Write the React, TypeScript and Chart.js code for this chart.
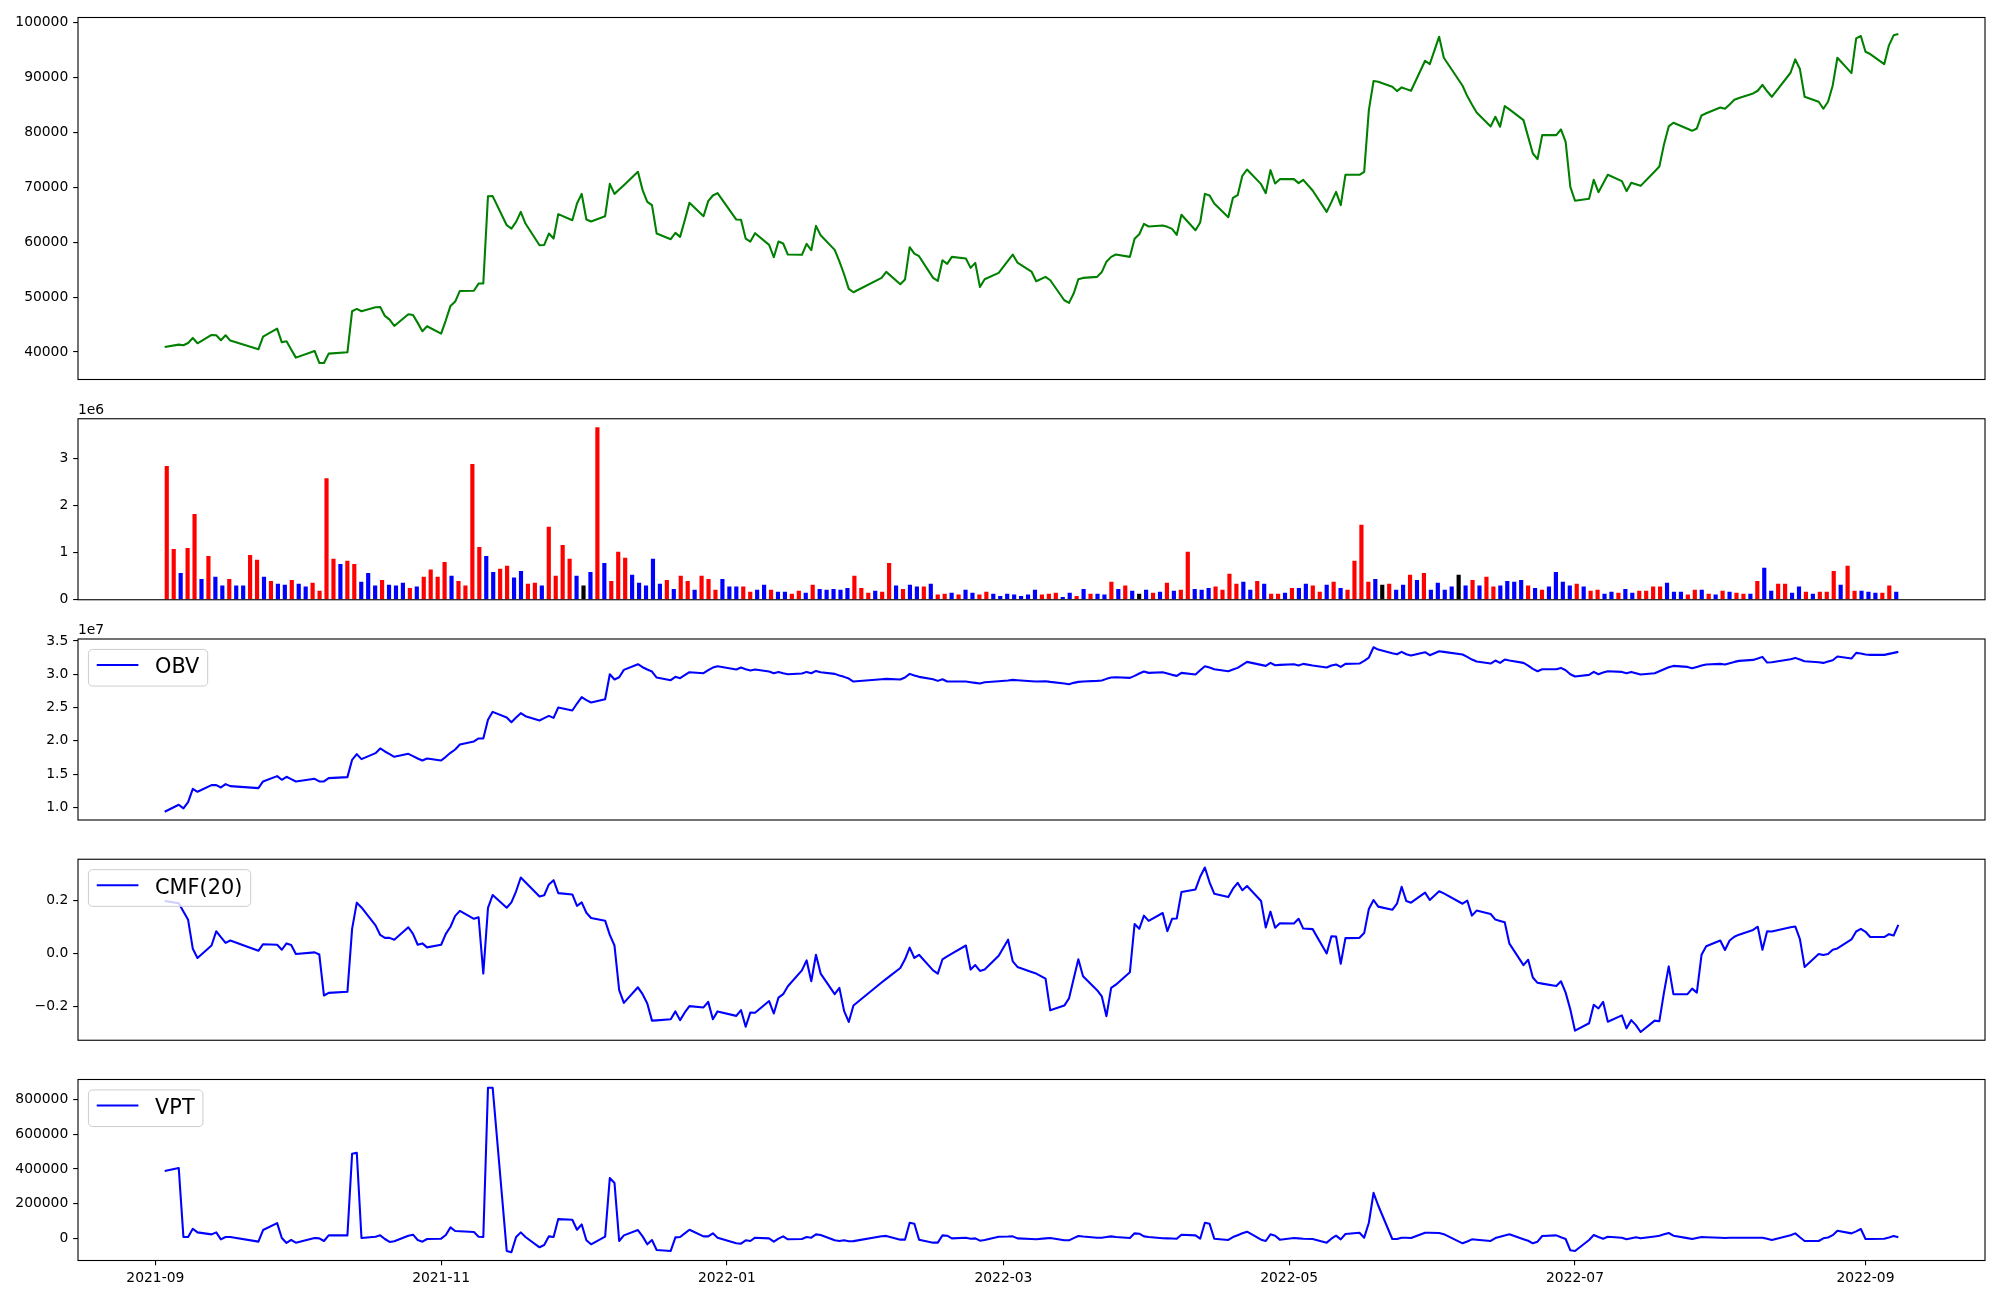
import React, { useEffect, useRef } from "react";
import { Chart, registerables } from "chart.js";

Chart.register(...registerables);

// ---------------- data ----------------
const TRADING_DAYS: [string, number[]][] = [
  ["2021-09", [3, 6, 7, 8, 9, 10, 13, 14, 15, 16, 17, 23, 24, 27, 28, 29, 30]],
  ["2021-10", [1, 5, 6, 7, 8, 12, 13, 14, 15, 18, 19, 20, 21, 22, 25, 26, 27, 28, 29]],
  ["2021-11", [1, 2, 3, 4, 5, 8, 9, 10, 11, 12, 15, 16, 17, 18, 19, 22, 23, 24, 25, 26, 29, 30]],
  ["2021-12", [1, 2, 3, 6, 7, 8, 9, 10, 13, 14, 15, 16, 17, 20, 21, 22, 23, 24, 27, 28, 29, 30]],
  ["2022-01", [3, 4, 5, 6, 7, 10, 11, 12, 13, 14, 17, 18, 19, 20, 21, 24, 25, 26, 27, 28]],
  ["2022-02", [3, 4, 7, 8, 9, 10, 11, 14, 15, 16, 17, 18, 21, 22, 23, 24, 25, 28]],
  ["2022-03", [2, 3, 4, 7, 8, 10, 11, 14, 15, 16, 17, 18, 21, 22, 23, 24, 25, 28, 29, 30, 31]],
  ["2022-04", [1, 4, 5, 6, 7, 8, 11, 12, 13, 14, 15, 18, 19, 20, 21, 22, 25, 26, 27, 28, 29]],
  ["2022-05", [2, 3, 4, 6, 9, 10, 11, 12, 13, 16, 17, 18, 19, 20, 23, 24, 25, 26, 27, 30, 31]],
  ["2022-06", [2, 3, 7, 8, 9, 10, 13, 14, 15, 16, 17, 20, 21, 22, 23, 24, 27, 28, 29, 30]],
  ["2022-07", [1, 4, 5, 6, 7, 8, 11, 12, 13, 14, 15, 18, 19, 20, 21, 22, 25, 26, 27, 28, 29]],
  ["2022-08", [1, 2, 3, 4, 5, 8, 9, 10, 11, 12, 16, 17, 18, 19, 22, 23, 24, 25, 26, 29, 30, 31]],
  ["2022-09", [1, 2, 5, 6, 7, 8]],
];

const PRICE = [
  40910, 41340, 41220, 41640, 42550, 41580, 43100, 43050, 42130, 43040, 42070, 40490, 42800, 44250, 41760, 41940, 40450,
  38970, 40180, 38000, 37980, 39700, 39940, 47420, 47840, 47420, 48150, 48200, 46570, 45900, 44740, 46870, 46750, 45300, 43770, 44680,
  43340, 45770, 48390, 49180, 51120, 51150, 52460, 52500, 68390, 68400, 63100, 62490, 63710, 65530, 63400, 59450, 59500, 61580, 60670, 65110, 64010, 67050,
  68810, 64130, 63770, 64740, 70640, 68810, 69600, 70400, 72830, 69490, 67360, 66750, 61580, 60550, 61700, 60970, 64000, 67170, 64740, 67480, 68510, 68940,
  64130, 64100, 60670, 60120, 61640, 59510, 57260, 60120, 59760, 57750, 57700, 59700, 58540, 62980, 61280, 58600, 56500, 54160, 51490, 50880,
  53500, 54590, 52340, 53190, 59090, 57930, 57450, 53500, 52950, 56720, 56050, 57330, 57020, 55320, 56230, 51850, 53250, 54410,
  56640, 57750, 56290, 54650, 52890, 53680, 53070, 49420, 48940, 50640, 53250, 53500, 53680, 54560, 56450, 57330, 57750, 57330, 60610, 61460, 63340,
  62860, 63040, 62800, 62430, 61340, 64990, 62190, 63590, 68810, 68510, 67050, 64560, 68080, 68570, 72100, 73250, 70580, 68940, 73130, 70700, 71490,
  71490, 70760, 71370, 69430, 65530, 67300, 69180, 66750, 72280, 72280, 72830, 84070, 89360, 89240, 88330, 87540, 88210, 87900, 87600, 93070, 92460,
  97450, 93620, 88510, 86630, 85100, 83650, 81100, 82860, 81040, 84800, 84200, 82250, 79200, 76170, 75140, 79520, 79520, 80550, 78300, 70090,
  67560, 67920, 71380, 69120, 70700, 72280, 71130, 69300, 70820, 70550, 70270, 72900, 73800, 77870, 81100, 81770, 80670, 80300, 80730, 83100, 83500,
  84560, 84320, 85100, 85960, 86260, 87110, 87600, 88690, 87500, 86500, 90880, 93310, 91550, 86500, 85590, 84320, 85590, 88570, 93620, 90820, 97140, 97570,
  94710, 94290, 92460, 95870, 97700, 97950,
];

// volume in millions of shares (axis offset 1e6)
const VOLUME_M = [
  2.84, 1.08, 0.57, 1.10, 1.82, 0.44, 0.93, 0.49, 0.30, 0.44,
  0.30, 0.30, 0.95, 0.85, 0.49, 0.40, 0.34, 0.32, 0.42, 0.34,
  0.28, 0.36, 0.19, 2.58, 0.87, 0.76, 0.83, 0.76, 0.38, 0.57,
  0.30, 0.42, 0.32, 0.30, 0.36, 0.25, 0.28, 0.49, 0.64, 0.49,
  0.80, 0.51, 0.40, 0.30, 2.88, 1.12, 0.93, 0.59, 0.66, 0.72,
  0.47, 0.61, 0.34, 0.36, 0.30, 1.55, 0.51, 1.16, 0.87, 0.51,
  0.30, 0.59, 3.66, 0.78, 0.40, 1.02, 0.89, 0.53, 0.36, 0.30,
  0.87, 0.34, 0.42, 0.23, 0.51, 0.40, 0.21, 0.51, 0.44, 0.21,
  0.44, 0.28, 0.28, 0.28, 0.17, 0.21, 0.32, 0.21, 0.17, 0.17,
  0.13, 0.19, 0.15, 0.32, 0.23, 0.21, 0.23, 0.21, 0.25, 0.51,
  0.25, 0.15, 0.19, 0.17, 0.78, 0.30, 0.23, 0.32, 0.28, 0.28,
  0.34, 0.11, 0.13, 0.15, 0.11, 0.21, 0.15, 0.11, 0.17, 0.13,
  0.08, 0.13, 0.11, 0.08, 0.11, 0.21, 0.11, 0.13, 0.15, 0.06,
  0.15, 0.08, 0.23, 0.13, 0.13, 0.11, 0.38, 0.23, 0.30, 0.19,
  0.13, 0.21, 0.15, 0.17, 0.36, 0.19, 0.21, 1.02, 0.23, 0.21,
  0.25, 0.28, 0.21, 0.55, 0.34, 0.38, 0.21, 0.40, 0.34, 0.13,
  0.13, 0.15, 0.25, 0.25, 0.34, 0.30, 0.17, 0.32, 0.38, 0.25,
  0.21, 0.83, 1.59, 0.38, 0.44, 0.32, 0.34, 0.21, 0.32, 0.53,
  0.42, 0.57, 0.21, 0.36, 0.21, 0.28, 0.53, 0.30, 0.42, 0.30,
  0.49, 0.28, 0.30, 0.40, 0.38, 0.42, 0.30, 0.25, 0.21, 0.28,
  0.59, 0.38, 0.30, 0.34, 0.28, 0.19, 0.21, 0.13, 0.17, 0.15,
  0.23, 0.15, 0.19, 0.19, 0.28, 0.28, 0.36, 0.17, 0.17, 0.11,
  0.21, 0.21, 0.13, 0.11, 0.19, 0.17, 0.15, 0.13, 0.13, 0.40,
  0.68, 0.19, 0.34, 0.34, 0.15, 0.28, 0.17, 0.13, 0.17, 0.17,
  0.61, 0.32, 0.72, 0.19, 0.19, 0.17, 0.15, 0.15, 0.30, 0.17,
];

// u = up (red), d = down (blue), f = flat (black); bars 1-83, 84-168, 169-250
const BAR_DIRS = [
  "uuduududdu", "dduududdud", "duuuuduudd", "duddduduuu", "uduuuudduu",
  "dduuduuuud", "fduduuuddd", "dduduuduuu", "ddd",
  "uuddudduud", "uddddduuud", "uududduduu", "dudduudddd", "ddduuuddud",
  "uddududfdu", "duduuddduu", "uudduduudu", "dduud",
  "uduuuudfud", "dududdddfd", "uduuddddud", "udddduduud", "dudduuuudd",
  "duudududuu", "dudduuddud", "uuuduudddu", "ud",
].join("");

// OBV in units of 1e7
const OBV_E7 = [
  0.935, 1.04, 0.985, 1.08, 1.28, 1.235, 1.335, 1.335, 1.30, 1.35, 1.32, 1.29, 1.39, 1.47, 1.415, 1.46, 1.425,
  1.39, 1.43, 1.39, 1.39, 1.44, 1.455, 1.715, 1.80, 1.725, 1.815, 1.885, 1.84, 1.80, 1.76, 1.805, 1.77, 1.735, 1.705, 1.735,
  1.705, 1.76, 1.82, 1.87, 1.945, 1.99, 2.035, 2.035, 2.315, 2.435, 2.35, 2.28, 2.35, 2.415, 2.37, 2.305, 2.34, 2.375, 2.345, 2.50, 2.455, 2.56,
  2.655, 2.61, 2.575, 2.625, 3.00, 2.92, 2.955, 3.065, 3.15, 3.105, 3.07, 3.04, 2.95, 2.91, 2.96, 2.94, 2.985, 3.03, 3.015, 3.06, 3.10, 3.12,
  3.07, 3.10, 3.075, 3.055, 3.07, 3.04, 3.015, 3.035, 3.015, 3.00, 3.01, 3.035, 3.015, 3.05, 3.03, 3.005, 2.98, 2.96, 2.935, 2.89,
  2.925, 2.93, 2.92, 2.95, 3.005, 2.98, 2.96, 2.925, 2.90, 2.925, 2.89, 2.89, 2.89, 2.88, 2.87, 2.86, 2.88, 2.895,
  2.905, 2.915, 2.91, 2.895, 2.89, 2.895, 2.885, 2.86, 2.85, 2.87, 2.885, 2.89, 2.90, 2.905, 2.93, 2.95, 2.955, 2.945, 2.975, 3.01, 3.04,
  3.02, 3.03, 3.01, 2.99, 2.975, 3.02, 2.995, 3.06, 3.12, 3.10, 3.075, 3.045, 3.07, 3.095, 3.14, 3.185, 3.14, 3.125, 3.17, 3.135, 3.14,
  3.15, 3.13, 3.155, 3.13, 3.10, 3.13, 3.145, 3.11, 3.155, 3.16, 3.20, 3.25, 3.405, 3.37, 3.315, 3.30, 3.335, 3.30, 3.28, 3.33, 3.285,
  3.345, 3.335, 3.295, 3.26, 3.22, 3.19, 3.16, 3.205, 3.17, 3.22, 3.205, 3.17, 3.13, 3.08, 3.045, 3.075, 3.075, 3.095, 3.06, 3.00,
  2.965, 2.99, 3.035, 3.00, 3.025, 3.045, 3.035, 3.015, 3.035, 3.015, 2.995, 3.015, 3.045, 3.075, 3.105, 3.125, 3.11, 3.09, 3.11, 3.13, 3.145,
  3.155, 3.145, 3.165, 3.185, 3.20, 3.215, 3.235, 3.26, 3.175, 3.18, 3.225, 3.245, 3.22, 3.195, 3.18, 3.17, 3.19, 3.21, 3.265, 3.235, 3.32, 3.31,
  3.295, 3.29, 3.29, 3.305, 3.32, 3.335,
];

const CMF20 = [
  0.199, 0.191, 0.16, 0.128, 0.019, -0.016, 0.031, 0.085, 0.063, 0.041, 0.050, 0.011, 0.036, 0.034, 0.015, 0.039, 0.033,
  -0.001, 0.005, -0.003, -0.158, -0.148, -0.144, 0.094, 0.193, 0.175, 0.107, 0.071, 0.060, 0.060, 0.053, 0.100, 0.075, 0.034, 0.039, 0.024,
  0.034, 0.075, 0.102, 0.143, 0.162, 0.132, 0.138, -0.075, 0.173, 0.222, 0.174, 0.194, 0.236, 0.288, 0.27, 0.216, 0.221, 0.262, 0.278, 0.229, 0.224, 0.181,
  0.194, 0.155, 0.135, 0.125, 0.071, 0.031, -0.138, -0.186, -0.127, -0.153, -0.188, -0.253, -0.252, -0.248, -0.218, -0.251, -0.222, -0.198, -0.203, -0.182, -0.248, -0.218,
  -0.235, -0.213, -0.276, -0.222, -0.223, -0.179, -0.226, -0.166, -0.153, -0.123, -0.063, -0.025, -0.104, -0.004, -0.075, -0.153, -0.129, -0.216, -0.258, -0.196,
  -0.109, -0.095, -0.054, -0.021, 0.023, -0.016, -0.004, -0.063, -0.075, -0.021, -0.010, 0.000, 0.031, -0.060, -0.043, -0.065, -0.060, -0.008,
  0.053, -0.029, -0.050, -0.069, -0.075, -0.094, -0.214, -0.196, -0.169, -0.095, -0.021, -0.085, -0.138, -0.161, -0.236, -0.129, -0.117, -0.070, 0.112, 0.094, 0.144,
  0.124, 0.154, 0.085, 0.132, 0.133, 0.233, 0.243, 0.291, 0.326, 0.270, 0.227, 0.214, 0.246, 0.268, 0.240, 0.256, 0.199, 0.099, 0.159, 0.098, 0.115,
  0.114, 0.132, 0.095, 0.093, 0.001, 0.066, 0.065, -0.038, 0.059, 0.060, 0.078, 0.169, 0.203, 0.178, 0.166, 0.189, 0.253, 0.199, 0.193, 0.231, 0.203,
  0.236, 0.228, 0.189, 0.201, 0.144, 0.163, 0.150, 0.129, 0.124, 0.119, 0.038, -0.043, -0.023, -0.090, -0.110, -0.113, -0.122, -0.104, -0.147, -0.211,
  -0.291, -0.263, -0.193, -0.207, -0.182, -0.257, -0.233, -0.282, -0.251, -0.270, -0.296, -0.253, -0.255, -0.145, -0.048, -0.153, -0.153, -0.132, -0.147, -0.004, 0.028,
  0.050, 0.014, 0.050, 0.064, 0.072, 0.090, 0.102, 0.015, 0.085, 0.084, 0.100, 0.103, 0.055, -0.050, -0.001, -0.005, -0.001, 0.015, 0.020, 0.054, 0.084, 0.094,
  0.083, 0.063, 0.063, 0.074, 0.069, 0.109,
];

const VPT = [
  388600, 405700, 9500, 9500, 57100, 36200, 24800, 36200, -3800, 9500, 9500, -17100, 49500, 89500, 3800, -24800, -7600,
  -22900, 3800, 1900, -13300, 19000, 19000, 487600, 493300, 3800, 11400, 19000, -1900, -19000, -15200, 17100, 22900, -7600, -17100, -1900,
  0, 21000, 64800, 43800, 43000, 38100, 11400, 9500, 866700, 866700, -70500, -78100, 9500, 36200, 9500, -49500, -36200, 13300, 9500, 112400, 108600, 51400,
  81900, -9500, -32400, 11400, 348600, 320000, -13300, 19000, 49500, 13300, -32400, -7600, -64800, -70500, 7600, 9500, 30000, 51400, 13300, 13300, 30500, 5700,
  -26700, -28600, -9500, -13300, 5700, 1900, -17100, 0, 13300, -3800, -1900, 9500, 5700, 24800, 21000, -9500, -13300, -9500, -15200, -14000,
  14000, 16000, -5700, -5700, 91400, 85700, -5700, -22900, -22900, 19000, 17100, 1900, 5700, 0, 1900, -11400, -7600, 11400,
  12000, 13300, 1900, -2000, -3800, 1500, 3800, -9500, -9500, 3000, 15200, 12000, 5700, 5700, 9500, 13300, 9500, 3800, 30500, 28600, 13300,
  10000, 2800, 1900, 1000, 0, 22900, 19000, 0, 91400, 85700, 0, -7600, 9500, 20000, 31000, 40000, -6000, -13300, 24800, 17100, -5700,
  3800, 1900, 0, -1900, -22900, 0, 17100, -3800, 26700, 34300, 5700, 91400, 262900, 190500, -1900, -1900, 5700, 5000, 3800, 34300, 34000,
  32400, 26000, -26700, -16000, -3800, -6000, -13300, 3800, 11000, 18000, 24800, -3000, -12000, -26700, -17100, 15200, 19000, 8000, -1900, -66700,
  -70500, -7600, 21000, 10000, 0, 11400, 5700, -3800, 2000, 7600, 1900, 13000, 17100, 25000, 32400, 17100, 3000, -1900, 4000, 9500, 8000,
  5000, 3800, 5700, 5700, 5700, 5700, 5700, 5700, -1000, -7600, 20000, 30500, 8000, -13300, -13300, 1900, 7000, 20000, 45700, 30500, 42000, 55200,
  -1900, -1500, 0, 7000, 15200, 7600,
];

const PRICE_TICKS = [40000, 50000, 60000, 70000, 80000, 90000, 100000];
const VOLUME_TICKS = [0, 1, 2, 3];
const OBV_TICKS = [1.0, 1.5, 2.0, 2.5, 3.0, 3.5];
const CMF_TICKS = [-0.2, 0.0, 0.2];
const VPT_TICKS = [0, 200000, 400000, 600000, 800000];
const X_TICK_LABELS = ["2021-09", "2021-11", "2022-01", "2022-03", "2022-05", "2022-07", "2022-09"];

// ---------------- derived helpers ----------------
const DIR_COLORS: Record<string, string> = { u: "#ff0000", d: "#0000ff", f: "#000000" };
const dayNum = (s: string) => {
  const [y, m, d] = s.split("-").map(Number);
  return Date.UTC(y, m - 1, d) / 86400000;
};
const DATES = TRADING_DAYS.flatMap(([ym, days]) => days.map((d) => `${ym}-${String(d).padStart(2, "0")}`));
const DAY_X = DATES.map(dayNum);
const X_TICK_VALUES = X_TICK_LABELS.map((l) => dayNum(l + "-01"));

function paddedRange(vals: number[], frac = 0.05): [number, number] {
  const lo = Math.min(...vals);
  const hi = Math.max(...vals);
  const pad = (hi - lo) * frac;
  return [lo - pad, hi + pad];
}

// ---------------- layout / style ----------------
const W = 2000;
const PLOT_LEFT = 78;
const PLOT_RIGHT = 1985;
const Y_AXIS_W = 70;
const X_AXIS_H = 34;
const FONT_PX = 13.89;
const TICK_LEN = 4.86;
const TICK_PAD = 4.86;
const LEGEND_FS = 20.83;
const LINE_W = 2.08;
const FONT_FAMILY = "DejaVu Sans";

Chart.defaults.font.family = FONT_FAMILY;

type Box = { canvasTop: number; canvasBottom: number; plotTop: number; plotBottom: number };
const BOXES: Box[] = [
  { canvasTop: 0, canvasBottom: 399, plotTop: 17.5, plotBottom: 379.5 },
  { canvasTop: 399, canvasBottom: 619, plotTop: 418.75, plotBottom: 599.75 },
  { canvasTop: 619, canvasBottom: 840, plotTop: 639, plotBottom: 820 },
  { canvasTop: 840, canvasBottom: 1060, plotTop: 859.25, plotBottom: 1040.25 },
  { canvasTop: 1060, canvasBottom: 1300, plotTop: 1079.5, plotBottom: 1260.5 },
];

const mplPlugin = {
  id: "mpl",
  afterDraw(chart: any, _args: any, opts: any) {
    const { ctx, chartArea: a } = chart;
    ctx.save();
    if (opts && opts.legendLabel) {
      const fs = LEGEND_FS;
      ctx.font = `${fs}px "${FONT_FAMILY}"`;
      const tw = ctx.measureText(opts.legendLabel).width;
      const bx = a.left + 0.5 * fs;
      const by = a.top + 0.5 * fs;
      const bw = 3.6 * fs + tw;
      const bh = 1.76 * fs;
      const r = 0.2 * fs;
      ctx.beginPath();
      ctx.moveTo(bx + r, by);
      ctx.lineTo(bx + bw - r, by);
      ctx.arcTo(bx + bw, by, bx + bw, by + r, r);
      ctx.lineTo(bx + bw, by + bh - r);
      ctx.arcTo(bx + bw, by + bh, bx + bw - r, by + bh, r);
      ctx.lineTo(bx + r, by + bh);
      ctx.arcTo(bx, by + bh, bx, by + bh - r, r);
      ctx.lineTo(bx, by + r);
      ctx.arcTo(bx, by, bx + r, by, r);
      ctx.closePath();
      ctx.fillStyle = "rgba(255,255,255,0.8)";
      ctx.fill();
      ctx.strokeStyle = "#cccccc";
      ctx.lineWidth = 1;
      ctx.stroke();
      ctx.beginPath();
      ctx.moveTo(bx + 0.4 * fs, by + 0.75 * fs);
      ctx.lineTo(bx + 2.4 * fs, by + 0.75 * fs);
      ctx.strokeStyle = opts.legendColor;
      ctx.lineWidth = LINE_W;
      ctx.stroke();
      ctx.fillStyle = "#000";
      ctx.textAlign = "left";
      ctx.textBaseline = "alphabetic";
      ctx.fillText(opts.legendLabel, bx + 3.2 * fs, by + 1.15 * fs);
    }
    ctx.strokeStyle = "#000";
    ctx.lineWidth = 1.1;
    ctx.strokeRect(a.left, a.top, a.right - a.left, a.bottom - a.top);
    if (opts && opts.offsetText) {
      ctx.fillStyle = "#000";
      ctx.font = `${FONT_PX}px "${FONT_FAMILY}"`;
      ctx.textAlign = "left";
      ctx.textBaseline = "alphabetic";
      ctx.fillText(opts.offsetText, a.left, a.top - 5);
    }
    ctx.restore();
  },
};

const tickFont = { family: FONT_FAMILY, size: FONT_PX };
const tickGrid = {
  drawOnChartArea: false,
  drawTicks: true,
  tickLength: TICK_LEN,
  color: "#000",
  lineWidth: 1.1,
};

function yAxis(range: [number, number], ticks: number[], fmt: (v: number) => string) {
  return {
    type: "linear",
    position: "left",
    min: range[0],
    max: range[1],
    bounds: "data",
    afterFit: (s: any) => {
      s.width = Y_AXIS_W;
    },
    afterBuildTicks: (s: any) => {
      s.ticks = ticks.map((v) => ({ value: v }));
    },
    ticks: {
      callback: (v: any) => fmt(Number(v)),
      font: tickFont,
      color: "#000",
      padding: TICK_PAD,
      autoSkip: false,
    },
    grid: tickGrid,
    border: { display: false },
  };
}

function dateXAxis(show: boolean) {
  const [min, max] = paddedRange(DAY_X);
  if (!show) return { type: "linear", min, max, display: false, bounds: "data" };
  return {
    type: "linear",
    position: "bottom",
    min,
    max,
    bounds: "data",
    afterFit: (s: any) => {
      s.height = X_AXIS_H;
    },
    afterBuildTicks: (s: any) => {
      s.ticks = X_TICK_VALUES.map((v) => ({ value: v }));
    },
    ticks: {
      callback: (_v: any, i: number) => X_TICK_LABELS[i],
      font: tickFont,
      color: "#000",
      padding: TICK_PAD,
      autoSkip: false,
      maxRotation: 0,
      minRotation: 0,
    },
    grid: tickGrid,
    border: { display: false },
  };
}

function padding(box: Box, hasX: boolean) {
  return {
    left: PLOT_LEFT - Y_AXIS_W,
    right: W - PLOT_RIGHT,
    top: box.plotTop - box.canvasTop,
    bottom: box.canvasBottom - box.plotBottom - (hasX ? X_AXIS_H : 0),
  };
}

function lineDataset(vals: number[], color: string) {
  return {
    data: vals.map((v, i) => ({ x: DAY_X[i], y: v })),
    borderColor: color,
    backgroundColor: color,
    borderWidth: LINE_W,
    pointRadius: 0,
    pointHoverRadius: 0,
    tension: 0,
    fill: false,
    borderJoinStyle: "round",
    borderCapStyle: "butt",
  };
}

function lineConfig(
  box: Box,
  vals: number[],
  color: string,
  range: [number, number],
  ticks: number[],
  fmt: (v: number) => string,
  showX: boolean,
  pluginOpts: any
): any {
  return {
    type: "line",
    data: { datasets: [lineDataset(vals, color)] },
    options: {
      animation: false,
      responsive: false,
      devicePixelRatio: 1,
      events: [],
      layout: { padding: padding(box, showX) },
      plugins: { legend: { display: false }, tooltip: { enabled: false }, mpl: pluginOpts },
      scales: { x: dateXAxis(showX), y: yAxis(range, ticks, fmt) },
    },
    plugins: [mplPlugin],
  };
}

const BAR_WIDTH = 0.6;

function volumeConfig(box: Box): any {
  const n = VOLUME_M.length;
  const ext = n - 1 + BAR_WIDTH;
  const xmin = -BAR_WIDTH / 2 - 0.05 * ext;
  const xmax = n - 1 + BAR_WIDTH / 2 + 0.05 * ext;
  const ymax = Math.max(...VOLUME_M) * 1.05;
  return {
    type: "bar",
    data: {
      datasets: [
        {
          data: VOLUME_M.map((v, i) => ({ x: i, y: v })),
          backgroundColor: BAR_DIRS.split("").map((c) => DIR_COLORS[c]),
          borderWidth: 0,
          barPercentage: BAR_WIDTH,
          categoryPercentage: 1,
        },
      ],
    },
    options: {
      animation: false,
      responsive: false,
      devicePixelRatio: 1,
      events: [],
      layout: { padding: padding(box, false) },
      plugins: { legend: { display: false }, tooltip: { enabled: false }, mpl: { offsetText: "1e6" } },
      scales: {
        x: { type: "linear", min: xmin, max: xmax, display: false, offset: false, bounds: "data" },
        y: yAxis([0, ymax], VOLUME_TICKS, (v) => String(v)),
      },
    },
    plugins: [mplPlugin],
  };
}

const fmtInt = (v: number) => String(Math.round(v));
const fmtOne = (v: number) => {
  const s = Math.abs(v).toFixed(1);
  return v < -1e-9 ? "\u2212" + s : s;
};

const BUILDERS: (() => any)[] = [
  () => lineConfig(BOXES[0], PRICE, "#008000", paddedRange(PRICE), PRICE_TICKS, fmtInt, false, {}),
  () => volumeConfig(BOXES[1]),
  () =>
    lineConfig(BOXES[2], OBV_E7, "#0000ff", paddedRange(OBV_E7), OBV_TICKS, fmtOne, false, {
      offsetText: "1e7",
      legendLabel: "OBV",
      legendColor: "#0000ff",
    }),
  () =>
    lineConfig(BOXES[3], CMF20, "#0000ff", paddedRange(CMF20), CMF_TICKS, fmtOne, false, {
      legendLabel: "CMF(20)",
      legendColor: "#0000ff",
    }),
  () =>
    lineConfig(BOXES[4], VPT, "#0000ff", paddedRange(VPT), VPT_TICKS, fmtInt, true, {
      legendLabel: "VPT",
      legendColor: "#0000ff",
    }),
];

function Panel({ box, build }: { box: Box; build: () => any }) {
  const ref = useRef<HTMLCanvasElement | null>(null);
  useEffect(() => {
    if (!ref.current) return;
    const chart = new Chart(ref.current, build());
    return () => chart.destroy();
  }, []);
  const h = box.canvasBottom - box.canvasTop;
  return (
    <div style={{ position: "absolute", left: 0, top: box.canvasTop, width: W, height: h }}>
      <canvas ref={ref} width={W} height={h} style={{ display: "block", width: W, height: h }} />
    </div>
  );
}

export default function App() {
  return (
    <div
      style={{
        position: "absolute",
        left: 0,
        top: 0,
        width: W,
        height: 1300,
        background: "#ffffff",
        overflow: "hidden",
      }}
    >
      {BOXES.map((b, i) => (
        <Panel key={i} box={b} build={BUILDERS[i]} />
      ))}
    </div>
  );
}
